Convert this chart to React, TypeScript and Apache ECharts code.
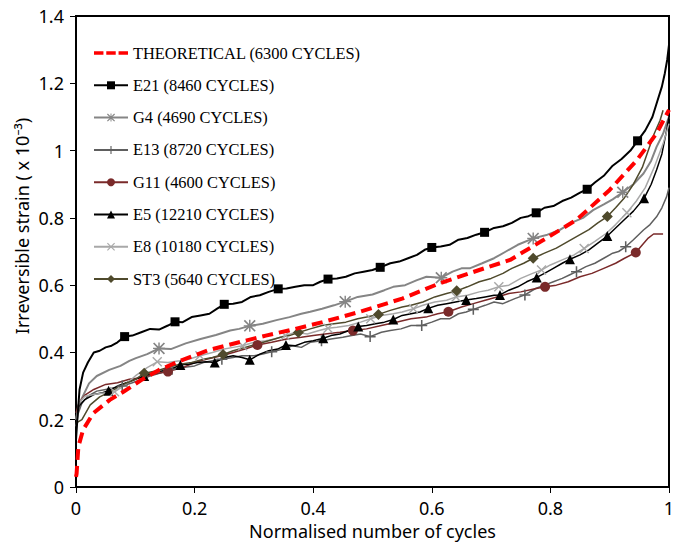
import React, { useEffect, useRef } from "react";
import * as echarts from "echarts";

const xTicks = [0, 0.2, 0.4, 0.6, 0.8, 1];
const yTicks = [0, 0.2, 0.4, 0.6, 0.8, 1, 1.2, 1.4];
const names = [
  "THEORETICAL (6300 CYCLES)",
  "E21 (8460 CYCLES)",
  "G4 (4690 CYCLES)",
  "E13 (8720 CYCLES)",
  "G11 (4600 CYCLES)",
  "E5 (12210 CYCLES)",
  "E8 (10180 CYCLES)",
  "ST3 (5640 CYCLES)",
];

const theoretical: number[][] = [
  [0, 0.03], [0.001, 0.04], [0.004, 0.12], [0.012, 0.17], [0.029, 0.219], [0.045, 0.242],
  [0.057, 0.259], [0.08, 0.283], [0.11, 0.318], [0.14, 0.348], [0.18, 0.378], [0.224, 0.407],
  [0.27, 0.428], [0.32, 0.45], [0.37, 0.47], [0.42, 0.492], [0.479, 0.521], [0.55, 0.56],
  [0.614, 0.606], [0.68, 0.645], [0.732, 0.675], [0.788, 0.734], [0.844, 0.794], [0.9, 0.883],
  [0.946, 0.972], [0.979, 1.051], [1.0, 1.121],
];

const e21Line: number[][] = [
  [0, 0.14], [0.003, 0.22], [0.006, 0.29], [0.012, 0.34], [0.02, 0.37], [0.03, 0.4], [0.04, 0.405],
  [0.05, 0.415], [0.06, 0.42], [0.07, 0.43], [0.095, 0.45], [0.11, 0.46], [0.125, 0.47], [0.14, 0.468],
  [0.155, 0.48], [0.18, 0.49], [0.195, 0.505], [0.21, 0.51], [0.225, 0.515], [0.238, 0.53],
  [0.265, 0.545], [0.28, 0.55], [0.295, 0.565], [0.31, 0.57], [0.325, 0.58], [0.355, 0.59],
  [0.37, 0.595], [0.385, 0.6], [0.4, 0.6], [0.412, 0.61], [0.44, 0.62], [0.455, 0.625],
  [0.47, 0.635], [0.485, 0.64], [0.5, 0.645], [0.53, 0.665], [0.545, 0.67], [0.56, 0.68],
  [0.575, 0.69], [0.588, 0.705], [0.615, 0.715], [0.63, 0.72], [0.645, 0.735], [0.66, 0.74],
  [0.675, 0.75], [0.705, 0.77], [0.72, 0.775], [0.735, 0.785], [0.75, 0.8], [0.763, 0.805],
  [0.79, 0.83], [0.805, 0.835], [0.82, 0.85], [0.835, 0.86], [0.85, 0.875], [0.875, 0.905],
  [0.89, 0.925], [0.905, 0.955], [0.92, 0.975], [0.935, 1.0], [0.96, 1.06], [0.972, 1.1],
  [0.98, 1.145], [0.988, 1.19], [0.993, 1.23], [0.997, 1.27], [1.0, 1.314],
];
const e21Markers: number[][] = [
  [0.082, 0.447], [0.167, 0.491], [0.25, 0.543], [0.341, 0.589], [0.425, 0.618], [0.513, 0.653],
  [0.6, 0.712], [0.689, 0.757], [0.776, 0.815], [0.862, 0.885], [0.947, 1.029],
];

const g4Line: number[][] = [
  [0, 0.2], [0.004, 0.24], [0.011, 0.268], [0.022, 0.308], [0.035, 0.33], [0.056, 0.348],
  [0.075, 0.36], [0.09, 0.375], [0.101, 0.383], [0.12, 0.395], [0.16, 0.41], [0.185, 0.427],
  [0.21, 0.44], [0.236, 0.452], [0.26, 0.465], [0.275, 0.47], [0.315, 0.485], [0.338, 0.496],
  [0.36, 0.505], [0.38, 0.515], [0.395, 0.521], [0.415, 0.53], [0.435, 0.54], [0.475, 0.565],
  [0.5, 0.572], [0.52, 0.585], [0.535, 0.595], [0.555, 0.6], [0.575, 0.615], [0.591, 0.625],
  [0.635, 0.64], [0.65, 0.65], [0.664, 0.65], [0.685, 0.665], [0.705, 0.68], [0.725, 0.7],
  [0.745, 0.72], [0.795, 0.75], [0.816, 0.764], [0.835, 0.785], [0.855, 0.8], [0.872, 0.823],
  [0.89, 0.84], [0.905, 0.855], [0.94, 0.9], [0.957, 0.932], [0.97, 0.97], [0.979, 1.011],
  [0.99, 1.05], [0.996, 1.081], [1.0, 1.1],
];
const g4Markers: number[][] = [
  [0.14, 0.412], [0.293, 0.479], [0.454, 0.551], [0.616, 0.622], [0.771, 0.739], [0.922, 0.876],
];

const e13Line: number[][] = [
  [0, 0.18], [0.004, 0.22], [0.01, 0.25], [0.02, 0.27], [0.035, 0.285], [0.05, 0.29], [0.065, 0.295],
  [0.095, 0.31], [0.11, 0.32], [0.125, 0.33], [0.145, 0.34], [0.18, 0.355], [0.2, 0.36], [0.215, 0.37],
  [0.23, 0.375], [0.265, 0.385], [0.28, 0.39], [0.3, 0.39], [0.315, 0.395], [0.35, 0.41],
  [0.365, 0.42], [0.38, 0.415], [0.395, 0.43], [0.43, 0.44], [0.45, 0.445], [0.465, 0.45],
  [0.48, 0.455], [0.515, 0.46], [0.53, 0.465], [0.548, 0.47], [0.565, 0.48], [0.6, 0.49],
  [0.615, 0.5], [0.63, 0.5], [0.645, 0.515], [0.658, 0.52], [0.69, 0.54], [0.705, 0.55],
  [0.72, 0.545], [0.74, 0.56], [0.775, 0.59], [0.79, 0.6], [0.805, 0.61], [0.82, 0.62],
  [0.832, 0.63], [0.86, 0.655], [0.875, 0.665], [0.89, 0.68], [0.905, 0.695], [0.915, 0.7],
  [0.94, 0.735], [0.957, 0.764], [0.968, 0.78], [0.979, 0.803], [0.988, 0.83], [0.996, 0.863],
  [1.0, 0.89],
];
const e13Markers: number[][] = [
  [0.078, 0.3], [0.162, 0.35], [0.246, 0.38], [0.33, 0.402], [0.414, 0.435], [0.496, 0.447],
  [0.583, 0.48], [0.67, 0.528], [0.757, 0.571], [0.844, 0.64], [0.927, 0.714],
];

const g11Line: number[][] = [
  [0, 0.22], [0.005, 0.25], [0.015, 0.273], [0.03, 0.29], [0.05, 0.305], [0.07, 0.31], [0.09, 0.32],
  [0.11, 0.325], [0.13, 0.335], [0.18, 0.355], [0.2, 0.37], [0.22, 0.38], [0.245, 0.39],
  [0.265, 0.4], [0.285, 0.41], [0.33, 0.43], [0.355, 0.44], [0.38, 0.445], [0.4, 0.45],
  [0.42, 0.455], [0.445, 0.46], [0.49, 0.47], [0.515, 0.48], [0.54, 0.49], [0.565, 0.5],
  [0.59, 0.505], [0.61, 0.515], [0.65, 0.535], [0.67, 0.545], [0.69, 0.555], [0.71, 0.565],
  [0.73, 0.575], [0.75, 0.58], [0.77, 0.588], [0.81, 0.6], [0.83, 0.61], [0.85, 0.625],
  [0.87, 0.635], [0.89, 0.65], [0.91, 0.665], [0.925, 0.68], [0.957, 0.724], [0.965, 0.74],
  [0.974, 0.752], [0.99, 0.752],
];
const g11Markers: number[][] = [
  [0.155, 0.343], [0.306, 0.422], [0.467, 0.465], [0.628, 0.521], [0.791, 0.595], [0.944, 0.697],
];

const e5Line: number[][] = [
  [0, 0.2], [0.005, 0.24], [0.015, 0.26], [0.03, 0.275], [0.045, 0.28], [0.07, 0.3], [0.085, 0.31],
  [0.1, 0.32], [0.13, 0.34], [0.145, 0.345], [0.16, 0.35], [0.19, 0.365], [0.205, 0.37],
  [0.22, 0.372], [0.25, 0.385], [0.265, 0.39], [0.28, 0.385], [0.31, 0.395], [0.325, 0.405],
  [0.34, 0.41], [0.37, 0.42], [0.385, 0.43], [0.4, 0.435], [0.43, 0.45], [0.445, 0.455],
  [0.46, 0.465], [0.49, 0.48], [0.505, 0.485], [0.52, 0.49], [0.55, 0.51], [0.565, 0.515],
  [0.58, 0.52], [0.61, 0.54], [0.625, 0.545], [0.64, 0.55], [0.675, 0.56], [0.69, 0.565],
  [0.705, 0.57], [0.73, 0.585], [0.745, 0.595], [0.76, 0.61], [0.79, 0.635], [0.805, 0.65],
  [0.82, 0.665], [0.85, 0.69], [0.865, 0.705], [0.88, 0.725], [0.91, 0.77], [0.925, 0.795],
  [0.94, 0.82], [0.97, 0.9], [0.979, 0.942], [0.988, 0.99], [0.996, 1.061], [1.0, 1.1],
];
const e5Markers: number[][] = [
  [0.055, 0.286], [0.115, 0.33], [0.176, 0.363], [0.234, 0.37], [0.293, 0.378], [0.354, 0.422],
  [0.417, 0.442], [0.476, 0.477], [0.535, 0.498], [0.594, 0.531], [0.658, 0.556], [0.715, 0.571],
  [0.777, 0.623], [0.833, 0.677], [0.896, 0.746], [0.958, 0.858],
];

const e8Line: number[][] = [
  [0, 0.2], [0.005, 0.25], [0.015, 0.27], [0.03, 0.275], [0.05, 0.28], [0.08, 0.3], [0.1, 0.33],
  [0.12, 0.355], [0.155, 0.37], [0.175, 0.375], [0.19, 0.38], [0.23, 0.4], [0.25, 0.41],
  [0.265, 0.415], [0.3, 0.43], [0.32, 0.435], [0.335, 0.44], [0.37, 0.46], [0.39, 0.455],
  [0.41, 0.465], [0.44, 0.475], [0.46, 0.48], [0.48, 0.49], [0.515, 0.51], [0.535, 0.515],
  [0.55, 0.52], [0.585, 0.54], [0.605, 0.55], [0.625, 0.555], [0.66, 0.57], [0.68, 0.58],
  [0.695, 0.585], [0.73, 0.6], [0.75, 0.62], [0.77, 0.635], [0.8, 0.66], [0.82, 0.675],
  [0.84, 0.69], [0.875, 0.73], [0.895, 0.755], [0.91, 0.78], [0.945, 0.85], [0.96, 0.89],
  [0.975, 0.95], [0.99, 1.02], [1.0, 1.08],
];
const e8Markers: number[][] = [
  [0.065, 0.283], [0.137, 0.372], [0.209, 0.39], [0.281, 0.42], [0.353, 0.45], [0.425, 0.472],
  [0.497, 0.5], [0.569, 0.53], [0.641, 0.565], [0.713, 0.595], [0.785, 0.645], [0.857, 0.709],
  [0.929, 0.815],
];

const st3Line: number[][] = [
  [0, 0.19], [0.01, 0.2], [0.024, 0.244], [0.04, 0.268], [0.063, 0.288], [0.08, 0.305], [0.1, 0.32],
  [0.135, 0.345], [0.155, 0.355], [0.175, 0.365], [0.195, 0.37], [0.215, 0.38], [0.23, 0.385],
  [0.265, 0.405], [0.285, 0.415], [0.305, 0.425], [0.325, 0.435], [0.345, 0.445], [0.36, 0.45],
  [0.395, 0.47], [0.415, 0.48], [0.435, 0.485], [0.455, 0.49], [0.475, 0.5], [0.49, 0.505],
  [0.53, 0.525], [0.55, 0.535], [0.565, 0.54], [0.585, 0.55], [0.605, 0.565], [0.625, 0.575],
  [0.66, 0.595], [0.68, 0.61], [0.7, 0.62], [0.72, 0.635], [0.735, 0.65], [0.755, 0.665],
  [0.79, 0.695], [0.81, 0.71], [0.83, 0.73], [0.85, 0.75], [0.865, 0.765], [0.88, 0.785],
  [0.91, 0.83], [0.925, 0.86], [0.94, 0.9], [0.955, 0.95], [0.965, 1.0], [0.975, 1.05],
  [0.985, 1.09], [0.99, 1.12],
];
const st3Markers: number[][] = [
  [0.115, 0.338], [0.248, 0.394], [0.375, 0.459], [0.51, 0.513], [0.642, 0.583], [0.771, 0.68],
  [0.896, 0.804],
];

const PLUS = "path://M4.3,0L5.7,0L5.7,4.3L10,4.3L10,5.7L5.7,5.7L5.7,10L4.3,10L4.3,5.7L0,5.7L0,4.3L4.3,4.3Z";
const CROSS = "path://M0,1L1,0L5,4L9,0L10,1L6,5L10,9L9,10L5,6L1,10L0,9L4,5Z";
const STAR =
  "path://M0,1L1,0L5,4L9,0L10,1L6,5L10,9L9,10L5,6L1,10L0,9L4,5Z M4.4,0L5.6,0L5.6,10L4.4,10Z M0,4.4L10,4.4L10,5.6L0,5.6Z";
const DASHES = "path://M0,0L10,0L10,3.6L0,3.6Z M13,0L23,0L23,3.6L13,3.6Z M26,0L36,0L36,3.6L26,3.6Z";

function build(line: number[][], markers: number[][]) {
  const pts = [
    ...line.map((p) => ({ value: p, symbol: "none" })),
    ...markers.map((p) => ({ value: p })),
  ];
  pts.sort((a, b) => a.value[0] - b.value[0]);
  return pts;
}

export default function App() {
  const ref = useRef<HTMLDivElement>(null);
  useEffect(() => {
    const chart = echarts.init(ref.current!, null, { renderer: "svg" });
    const axisFont = "Noto Sans";
    const mk = (
      name: string,
      data: any[],
      color: string,
      width: number,
      symbol: string,
      size: number,
      z = 2
    ) => ({
      name,
      type: "line",
      data,
      z,
      showSymbol: true,
      showAllSymbol: true,
      symbol,
      symbolSize: size,
      lineStyle: { color, width },
      itemStyle: { color, borderWidth: 0 },
      emphasis: { disabled: true },
    });
    const option: any = {
      animation: false,
      backgroundColor: "#fff",
      grid: {
        left: 76,
        top: 16,
        right: 4,
        bottom: 57,
        show: true,
        borderColor: "#000",
        borderWidth: 2,
        containLabel: false,
        outerBoundsMode: "none",
      },
      legend: {
        orient: "vertical",
        left: 88,
        top: 39,
        itemWidth: 34,
        itemHeight: 10,
        itemGap: 14.3,
        data: [
          { name: names[0], icon: DASHES, itemStyle: { color: "#ff0000" } },
          ...names.slice(1),
        ],
        textStyle: { fontFamily: "Liberation Serif", fontSize: 16.4, color: "#000", lineHeight: 18 },
      },
      xAxis: {
        type: "value",
        min: xTicks[0],
        max: xTicks[xTicks.length - 1],
        interval: 0.2,
        name: "Normalised number of cycles",
        nameLocation: "middle",
        nameGap: 28,
        nameTextStyle: { fontFamily: axisFont, fontSize: 18, color: "#000" },
        axisLine: { show: true, lineStyle: { color: "#000", width: 2 } },
        axisTick: { show: true, inside: false, length: 6, lineStyle: { color: "#000", width: 1 } },
        axisLabel: { fontFamily: axisFont, fontSize: 18, color: "#000", margin: 12 },
        splitLine: { show: false },
      },
      yAxis: {
        type: "value",
        min: yTicks[0],
        max: yTicks[yTicks.length - 1],
        interval: 0.2,
        axisLine: { show: true, lineStyle: { color: "#000", width: 2 } },
        axisTick: { show: true, inside: false, length: 6, lineStyle: { color: "#000", width: 1 } },
        axisLabel: { fontFamily: axisFont, fontSize: 18, color: "#000", margin: 12 },
        splitLine: { show: false },
      },
      graphic: [
        {
          type: "text",
          x: 22,
          y: 226,
          rotation: Math.PI / 2,
          style: {
            text: "Irreversible strain ( x 10\u207B\u00B3)",
            fontFamily: axisFont,
            fontSize: 18,
            fill: "#000",
            textAlign: "center",
            textVerticalAlign: "middle",
          },
        },
      ],
      series: [
        {
          name: names[0],
          type: "line",
          data: theoretical,
          z: 5,
          showSymbol: false,
          symbol: "none",
          lineStyle: { color: "#ff0000", width: 4, type: [11, 6] },
          itemStyle: { color: "#ff0000" },
          emphasis: { disabled: true },
        },
        mk(names[1], build(e21Line, e21Markers), "#000000", 2, "rect", 9, 4),
        mk(names[2], build(g4Line, g4Markers), "#858585", 2, STAR, 12),
        mk(names[3], build(e13Line, e13Markers), "#5f5f5f", 1.5, PLUS, 11),
        mk(names[4], build(g11Line, g11Markers), "#7a2a2a", 1.5, "circle", 10),
        mk(names[5], build(e5Line, e5Markers), "#000000", 1.5, "triangle", 10),
        mk(names[6], build(e8Line, e8Markers), "#a8a8a8", 1.5, CROSS, 10),
        mk(names[7], build(st3Line, st3Markers), "#4f4a2c", 1.5, "diamond", 11),
      ],
    };
    chart.setOption(option);
    return () => chart.dispose();
  }, []);
  return (
    <div
      ref={ref}
      style={{ position: "absolute", left: 0, top: 0, width: 673, height: 544, background: "#fff" }}
    />
  );
}
